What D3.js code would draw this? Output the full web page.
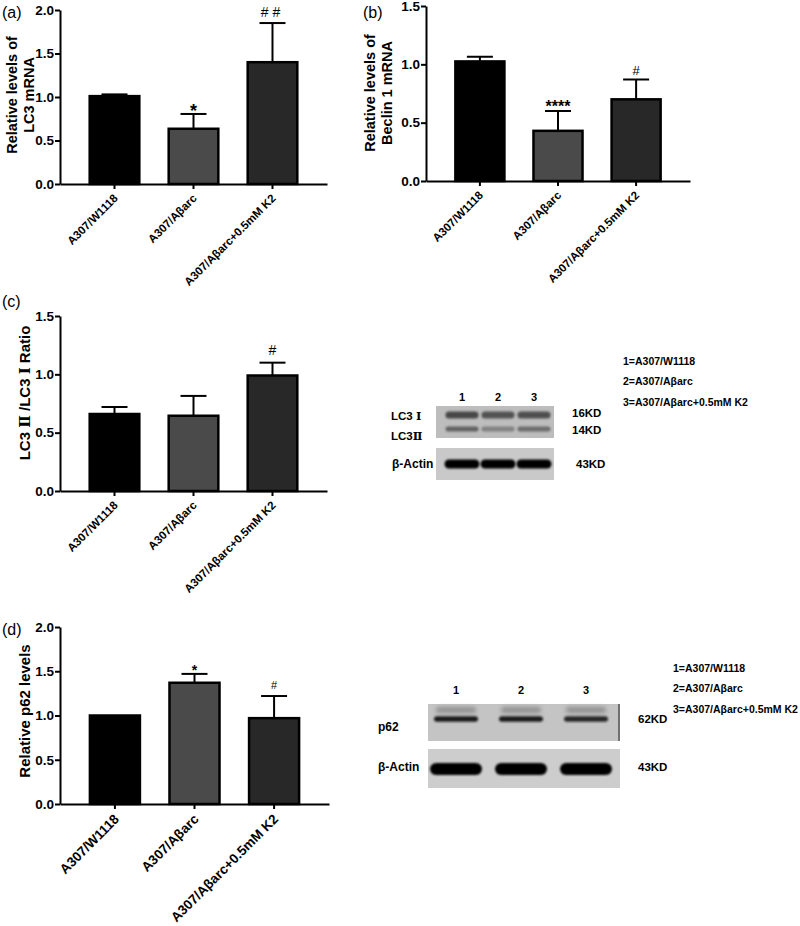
<!DOCTYPE html>
<html><head><meta charset="utf-8">
<script src="https://cdn.jsdelivr.net/npm/d3@7"></script>
<style>body{margin:0;background:#fff} text{font-family:"Liberation Sans",Arial,Helvetica,sans-serif} .rn{font-family:"DejaVu Serif","Liberation Serif",serif}</style>
</head><body><svg id="c" width="800" height="926"></svg>
<script>
// ---------- data ----------
const categories = ["A307/W1118","A307/Aβarc","A307/Aβarc+0.5mM K2"];
const lc3mRNA    = [1.01, 0.635, 1.40];
const lc3mRNAErr = [1.03, 0.805, 1.85];
const lc3mRNASig = ["", "*", "##"];
const beclinMRNA = [1.025, 0.43, 0.70];
const beclinErr  = [1.065, 0.60, 0.87];
const beclinSig  = ["", "****", "#"];
const lc3Ratio    = [0.66, 0.645, 0.99];
const lc3RatioErr = [0.72, 0.815, 1.10];
const lc3RatioSig = ["", "", "#"];
const p62Level    = [1.0, 1.37, 0.97];
const p62Err      = [1.0, 1.47, 1.22];
const p62Sig      = ["", "*", "#"];
const ticks2  = [0, 0.5, 1.0, 1.5, 2.0];
const ticks15 = [0, 0.5, 1.0, 1.5];
const laneLabels = ["1","2","3"];
const legendLabels = ["1=A307/W1118","2=A307/Aβarc","3=A307/Aβarc+0.5mM K2"];
// relative band intensities per lane (read from blots)
const lc3IBand  = [0.80, 0.72, 0.75];
const lc3IIBand = [0.62, 0.40, 0.55];
const actinCBand = [1, 1, 1];
const p62Band   = [0.92, 0.92, 0.85];
const actinDBand = [1, 1, 1];

const barFills = ["#000000", "#4a4a4a", "#282828"];
const svg = d3.select("#c");
const defs = svg.append("defs");
defs.append("filter").attr("id","blur").attr("x","-30%").attr("y","-100%").attr("width","160%").attr("height","300%")
  .append("feGaussianBlur").attr("stdDeviation","1.3");
defs.append("filter").attr("id","blur2").attr("x","-30%").attr("y","-100%").attr("width","160%").attr("height","300%")
  .append("feGaussianBlur").attr("stdDeviation","2");

// append text where Roman numerals get a serif face
function richText(sel, str){
  str.split(/([ⅠⅡ])/).forEach(part=>{
    if(!part) return;
    const t = sel.append("tspan").text(part);
    if(part==="Ⅰ"||part==="Ⅱ") t.attr("class","rn");
  });
}

function panel(o){
  const g = svg.append("g");
  const x = d3.scaleBand().domain(categories).range([o.x0, o.x1]).paddingInner(0.34).paddingOuter(0.36);
  const y = d3.scaleLinear().domain([0, o.max]).range([o.y0, o.y1]);
  const bw = x.bandwidth();
  g.selectAll("rect.bar").data(o.values).join("rect").attr("class","bar")
    .attr("x",(d,i)=>x(categories[i])+1.25).attr("width",bw-2.5)
    .attr("y",d=>y(d)).attr("height",d=>o.y0-y(d))
    .attr("fill",(d,i)=>barFills[i]).attr("stroke","#000").attr("stroke-width",2.5);
  o.errs.forEach((e,i)=>{
    if(e <= o.values[i]) return;
    const cx = x(categories[i]) + bw/2;
    g.append("line").attr("x1",cx).attr("x2",cx).attr("y1",y(o.values[i])).attr("y2",y(e))
      .attr("stroke","#000").attr("stroke-width",2);
    g.append("line").attr("x1",cx-13).attr("x2",cx+13).attr("y1",y(e)).attr("y2",y(e))
      .attr("stroke","#000").attr("stroke-width",2);
    const s = o.sig[i];
    if(s){
      const star = s[0]==="*";
      g.append("text").attr("x",cx).attr("y", star ? y(e)+o.starDy : y(e)-o.hashDy)
        .attr("text-anchor","middle")
        .attr("font-size", star ? o.starSize : o.hashSize)
        .attr("font-weight", star ? "bold" : "normal")
        .attr("letter-spacing", s==="##" ? 4 : 0)
        .text(s);
    }
  });
  const ya = g.append("g").attr("transform",`translate(${o.x0},0)`)
    .call(d3.axisLeft(y).tickValues(o.ticks).tickFormat(d3.format(".1f")).tickSize(5).tickSizeOuter(0).tickPadding(1));
  ya.select(".domain").attr("stroke-width",2);
  ya.selectAll(".tick line").attr("stroke-width",2);
  ya.selectAll(".tick text").attr("font-size",o.tickSize).attr("font-weight","bold").attr("fill","#000");
  const xa = g.append("g").attr("transform",`translate(0,${o.y0})`)
    .call(d3.axisBottom(x).tickSize(5).tickSizeOuter(0));
  xa.select(".domain").attr("stroke-width",2);
  xa.selectAll(".tick line").attr("stroke-width",2);
  xa.selectAll(".tick text").attr("font-size",o.catSize).attr("font-weight","bold").attr("fill","#000")
    .attr("text-anchor","end").attr("x",0).attr("y",0).attr("dy",0)
    .attr("transform",`translate(${o.catDx},${o.catDy}) rotate(-45)`);
  g.selectAll(".domain").attr("stroke","#000");
  const ly = g.append("text").attr("transform",`translate(${o.labX},${o.labY}) rotate(-90)`)
    .attr("text-anchor","middle").attr("font-size",o.labSize).attr("font-weight","bold");
  o.ylabel.forEach((t,i)=>{
    const ts = ly.append("tspan").attr("x",0).attr("dy", i===0?0:o.labSize*1.2);
    richText(ts, t);
  });
  g.append("text").attr("x",o.letX).attr("y",o.letY).attr("font-size",16).text(o.letter);
}

panel({x0:60,x1:327,y0:184,y1:10,max:2,ticks:ticks2,values:lc3mRNA,errs:lc3mRNAErr,sig:lc3mRNASig,
  starSize:18,starDy:3,hashSize:14,hashDy:6,tickSize:13.5,catSize:11.5,catDx:4,catDy:15,
  ylabel:["Relative levels of","LC3 mRNA"],labX:17,labY:95,labSize:14.5,letter:"(a)",letX:2,letY:18});
panel({x0:426,x1:690,y0:181,y1:6,max:1.5,ticks:ticks15,values:beclinMRNA,errs:beclinErr,sig:beclinSig,
  starSize:16,starDy:1,hashSize:13,hashDy:5,tickSize:13.5,catSize:11.5,catDx:4,catDy:15,
  ylabel:["Relative levels of","Beclin 1 mRNA"],labX:375,labY:93,labSize:14.5,letter:"(b)",letX:363,letY:18});
panel({x0:60,x1:327,y0:491,y1:316,max:1.5,ticks:ticks15,values:lc3Ratio,errs:lc3RatioErr,sig:lc3RatioSig,
  starSize:16,starDy:1,hashSize:14,hashDy:8,tickSize:13.5,catSize:11.5,catDx:4,catDy:15,
  ylabel:["LC3 Ⅱ /LC3 Ⅰ Ratio"],labX:30,labY:393,labSize:15,letter:"(c)",letX:2,letY:307});
panel({x0:60,x1:329,y0:804,y1:627,max:2,ticks:ticks2,values:p62Level,errs:p62Err,sig:p62Sig,
  starSize:14,starDy:1,hashSize:11,hashDy:7,tickSize:13.5,catSize:13.5,catDx:5,catDy:16,
  ylabel:["Relative p62 levels"],labX:30,labY:711,labSize:15,letter:"(d)",letX:2,letY:635});

// ---------- western blots ----------
function blot(b){
  const g = svg.append("g");
  const lx = d3.scalePoint().domain(laneLabels).range(b.lanes);
  g.selectAll("text.lane").data(laneLabels).join("text").attr("class","lane")
    .attr("x",d=>lx(d)).attr("y",b.laneY).attr("text-anchor","middle")
    .attr("font-size",11).attr("font-weight","bold").text(d=>d);
  b.boxes.forEach(bx=>{
    g.append("rect").attr("x",b.bx0).attr("width",b.bx1-b.bx0).attr("y",bx.y0).attr("height",bx.y1-bx.y0)
      .attr("fill",bx.bg);
    if(bx.edge) g.append("line").attr("x1",b.bx1-1).attr("x2",b.bx1-1).attr("y1",bx.y0).attr("y2",bx.y1)
      .attr("stroke","#555").attr("stroke-width",1.5);
    bx.bands.forEach(bd=>{
      g.selectAll(null).data(bd.vals).join("rect")
        .attr("x",(d,i)=>lx(laneLabels[i])-bd.w/2).attr("width",bd.w)
        .attr("y",bd.y-bd.h/2).attr("height",bd.h).attr("rx",bd.h/2)
        .attr("fill",bd.color).attr("opacity",d=>d).attr("filter",bd.f||"url(#blur)");
    });
    bx.labels.forEach(l=>{
      const t = g.append("text").attr("x",l.x).attr("y",l.y).attr("font-size",l.s||11.5)
        .attr("font-weight","bold").attr("dominant-baseline","middle");
      richText(t, l.t);
    });
  });
  g.selectAll("text.leg").data(legendLabels).join("text").attr("class","leg")
    .attr("x",b.legX).attr("y",(d,i)=>b.legY+i*b.legStep).attr("dominant-baseline","middle")
    .attr("font-size",10.5).attr("font-weight","bold").text(d=>d);
}

blot({lanes:[462,534],laneY:401,bx0:436,bx1:554,legX:623,legY:362,legStep:20.5,
  boxes:[
    {y0:406,y1:438,bg:"#bdbdbd",bands:[
      {vals:lc3IBand,y:415,h:7,w:33,color:"#2a2a2a"},
      {vals:lc3IIBand,y:429,h:5,w:33,color:"#2a2a2a"}],
     labels:[{t:"LC3 Ⅰ",x:391,y:417},{t:"LC3Ⅱ",x:391,y:437},{t:"16KD",x:572,y:414},{t:"14KD",x:572,y:431}]},
    {y0:448,y1:480,bg:"#c9c9c9",bands:[
      {vals:actinCBand,y:464,h:9,w:35,color:"#000"}],
     labels:[{t:"β-Actin",x:392,y:465,s:12},{t:"43KD",x:576,y:465}]}
  ]});

blot({lanes:[456,586],laneY:694,bx0:428,bx1:620,legX:673,legY:669,legStep:20.5,
  boxes:[
    {y0:704,y1:741,bg:"#c4c4c4",edge:true,bands:[
      {vals:[0.35,0.35,0.35],y:710,h:6,w:40,color:"#333",f:"url(#blur2)"},
      {vals:p62Band,y:719,h:5.5,w:44,color:"#111"}],
     labels:[{t:"p62",x:378,y:728,s:12},{t:"62KD",x:638,y:720}]},
    {y0:749,y1:788,bg:"#cdcdcd",bands:[
      {vals:actinDBand,y:769,h:12,w:52,color:"#000"}],
     labels:[{t:"β-Actin",x:378,y:768,s:12},{t:"43KD",x:638,y:768}]}
  ]});
</script></body></html>
